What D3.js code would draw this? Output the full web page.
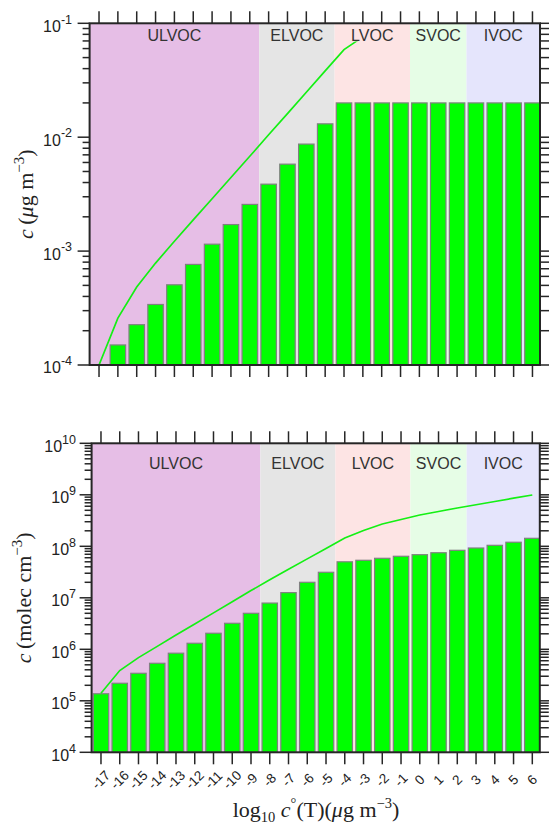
<!DOCTYPE html>
<html><head><meta charset="utf-8">
<script src="https://cdn.jsdelivr.net/npm/d3@7"></script>
<style>body{margin:0;background:#fff}</style></head>
<body><svg id="chart" width="549" height="824"></svg>
<script>
// ---------- data ----------
const categories = [-17,-16,-15,-14,-13,-12,-11,-10,-9,-8,-7,-6,-5,-4,-3,-2,-1,0,1,2,3,4,5,6];
// top panel: mass concentration (µg m^-3)
const massBars = [1.0e-4,1.5e-4,2.26e-4,3.4e-4,5.06e-4,7.64e-4,1.15e-3,1.71e-3,2.57e-3,3.87e-3,5.8e-3,8.7e-3,1.31e-2,
                  2.0e-2,2.0e-2,2.0e-2,2.0e-2,2.0e-2,2.0e-2,2.0e-2,2.0e-2,2.0e-2,2.0e-2,2.0e-2];
const massLineCats = [-17,-16,-15,-14,-13,-12,-11,-10,-9,-8,-7,-6,-5,-4,-3,-2];
const massLine = [1.0e-4,2.58e-4,4.84e-4,7.85e-4,1.22e-3,1.88e-3,2.88e-3,4.43e-3,6.8e-3,1.05e-2,1.61e-2,2.48e-2,3.82e-2,5.87e-2,7.6e-2,9.9e-2];
// bottom panel: number concentration (molec cm^-3)
const numBars = [1.37e5,2.19e5,3.42e5,5.35e5,8.4e5,1.31e6,2.05e6,3.2e6,5.0e6,7.9e6,1.26e7,2.0e7,3.13e7,
                 5.0e7,5.35e7,5.85e7,6.4e7,6.87e7,7.5e7,8.36e7,9.27e7,1.045e8,1.2e8,1.43e8];
const numLine = [1.4e5,3.87e5,6.9e5,1.14e6,1.89e6,3.1e6,5.1e6,8.4e6,1.38e7,2.24e7,3.57e7,5.7e7,9.1e7,
                 1.45e8,2.03e8,2.71e8,3.31e8,4.05e8,4.74e8,5.55e8,6.4e8,7.4e8,8.6e8,9.9e8];
const classNames = ["ULVOC","ELVOC","LVOC","SVOC","IVOC"];
const classStart = [-17.5,-8.5,-4.5,-0.5,2.5];
const classEnd   = [-8.5,-4.5,-0.5,2.5,6.4];
const massTicks = [1e-4,1e-3,1e-2,1e-1];
const massTickExp = ["-4","-3","-2","-1"];
const numTicks = [1e4,1e5,1e6,1e7,1e8,1e9,1e10];
const numTickExp = ["4","5","6","7","8","9","10"];

// ---------- styles ----------
const classColors = ["#e6bee6","#e5e5e5","#fde4e4","#e6fde6","#e5e5fc"];
const frameColor = "#262626";
const svg = d3.select("#chart");

function panel(opt){
  const g = svg.append("g");
  const x = d3.scaleLinear().domain([-17.5,6.4]).range([opt.left,opt.right]);
  const y = d3.scaleLog().domain(opt.ydomain).range([opt.bottom,opt.top]);
  const clipId = "clip"+opt.id;
  svg.append("clipPath").attr("id",clipId).append("rect")
     .attr("x",opt.left).attr("y",opt.top).attr("width",opt.right-opt.left).attr("height",opt.bottom-opt.top);
  const inner = g.append("g").attr("clip-path",`url(#${clipId})`);
  inner.selectAll("rect.cls").data(classNames).join("rect").attr("class","cls")
    .attr("x",(d,i)=>x(classStart[i])).attr("width",(d,i)=>x(classEnd[i])-x(classStart[i]))
    .attr("y",opt.top).attr("height",opt.bottom-opt.top)
    .attr("fill",(d,i)=>classColors[i]);
  const bw = 0.82;
  inner.selectAll("rect.bar").data(opt.bars).join("rect").attr("class","bar")
    .attr("x",(d,i)=>x(categories[i]-bw/2)).attr("width",x(bw)-x(0))
    .attr("y",d=>y(d)).attr("height",d=>Math.max(0,opt.bottom-y(d)))
    .attr("fill","#00ff00").attr("stroke","#808080").attr("stroke-width",1.2);
  inner.append("path").datum(opt.line)
    .attr("d",d3.line().x((d,i)=>x(opt.lineCats[i])).y(d=>y(d)))
    .attr("fill","none").attr("stroke","#14f014").attr("stroke-width",1.7);
  classNames.forEach((nm,i)=>{
    const cx = (x(classStart[i])+x(classEnd[i]))/2;
    const ty = y(opt.labelY);
    const bgr = inner.append("rect").attr("fill",classColors[i]);
    const t = inner.append("text").attr("x",cx).attr("y",ty).attr("text-anchor","middle")
      .attr("font-family","Liberation Sans, Arial, sans-serif").attr("font-size",16).attr("fill","#333")
      .text(nm);
    const bb = t.node().getBBox();
    bgr.attr("x",bb.x-1).attr("y",opt.top).attr("width",bb.width+2).attr("height",ty+0.5-opt.top);
  });
  g.append("rect").attr("x",opt.left).attr("y",opt.top).attr("width",opt.right-opt.left).attr("height",opt.bottom-opt.top)
    .attr("fill","none").attr("stroke",frameColor).attr("stroke-width",2);
  const tk = g.append("g").attr("stroke",frameColor).attr("stroke-width",1.5);
  categories.forEach(c=>{
    tk.append("line").attr("x1",x(c)).attr("x2",x(c)).attr("y1",opt.top).attr("y2",opt.top-12);
    tk.append("line").attr("x1",x(c)).attr("x2",x(c)).attr("y1",opt.bottom).attr("y2",opt.bottom+12);
  });
  const [lo,hi] = opt.ydomain;
  for(let e=Math.round(Math.log10(lo)); e<=Math.round(Math.log10(hi)); e++){
    for(let m=1;m<=9;m++){
      const v = m*Math.pow(10,e);
      if(v>hi*1.0001) break;
      const yy = y(v), len = m===1?12:7;
      tk.append("line").attr("x1",opt.left).attr("x2",opt.left-len).attr("y1",yy).attr("y2",yy);
      tk.append("line").attr("x1",opt.right).attr("x2",opt.right+(m===1?12:9)).attr("y1",yy).attr("y2",yy);
    }
  }
  opt.yticks.forEach((v,i)=>{
    const t = g.append("text").attr("x",opt.labelRight).attr("y",y(v)+8.4).attr("text-anchor","end")
      .attr("font-family","Liberation Sans, Arial, sans-serif").attr("font-size",16).attr("fill","#222");
    t.append("tspan").text("10");
    t.append("tspan").attr("font-size",12.5).attr("dy",-8.2).text(opt.yexp[i]);
  });
  const yt = g.append("text").attr("transform",`translate(${opt.titleX},${(opt.top+opt.bottom)/2}) rotate(-90)`)
    .attr("text-anchor","middle").attr("font-family","Liberation Serif, Times New Roman, serif")
    .attr("font-size",22).attr("fill","#222");
  yt.append("tspan").attr("font-style","italic").text("c");
  yt.append("tspan").text("\u2009(");
  opt.unit(yt);
  return {g,x,y};
}

const panelTop = panel({id:"a",left:89.6,right:540,top:23.3,bottom:365,ydomain:[1e-4,1e-1],
  bars:massBars,line:massLine,lineCats:massLineCats,labelY:0.07,
  yticks:massTicks,yexp:massTickExp,labelRight:72,titleX:33,
  unit:(t)=>{t.append("tspan").attr("font-style","italic").text("\u03bc");t.append("tspan").text("g m");
    t.append("tspan").attr("font-size",15).attr("dy",-9).text("\u22123");t.append("tspan").attr("dy",9).text(")");}});

const panelBot = panel({id:"b",left:91.6,right:539.8,top:443.3,bottom:752.3,ydomain:[1e4,1e10],
  bars:numBars,line:numLine,lineCats:categories,labelY:3.16e9,
  yticks:numTicks,yexp:numTickExp,labelRight:76,titleX:31,
  unit:(t)=>{t.append("tspan").text("molec cm");
    t.append("tspan").attr("font-size",15).attr("dy",-9).text("\u22123");t.append("tspan").attr("dy",9).text(")");}});

categories.forEach(c=>{
  panelBot.g.append("text").attr("transform",`translate(${panelBot.x(c)},780) rotate(-45)`)
    .attr("text-anchor","middle").attr("dominant-baseline","central")
    .attr("font-family","Liberation Sans, Arial, sans-serif").attr("font-size",13.5).attr("fill","#222")
    .text(String(c));
});
const xt = svg.append("text").attr("x",316).attr("y",817).attr("text-anchor","middle")
  .attr("font-family","Liberation Serif, Times New Roman, serif").attr("font-size",22).attr("fill","#222");
xt.append("tspan").text("log");
xt.append("tspan").attr("font-size",14.5).attr("dy",5).text("10");
xt.append("tspan").attr("dy",-5).text(" ");
xt.append("tspan").attr("font-style","italic").text("c");
xt.append("tspan").attr("font-size",14.5).attr("dy",-9).text("\u00b0");
xt.append("tspan").attr("dy",9).text("(T)(");
xt.append("tspan").attr("font-style","italic").text("\u03bc");
xt.append("tspan").text("g m");
xt.append("tspan").attr("font-size",14.5).attr("dy",-9).text("\u22123");
xt.append("tspan").attr("dy",9).text(")");
</script></body></html>
